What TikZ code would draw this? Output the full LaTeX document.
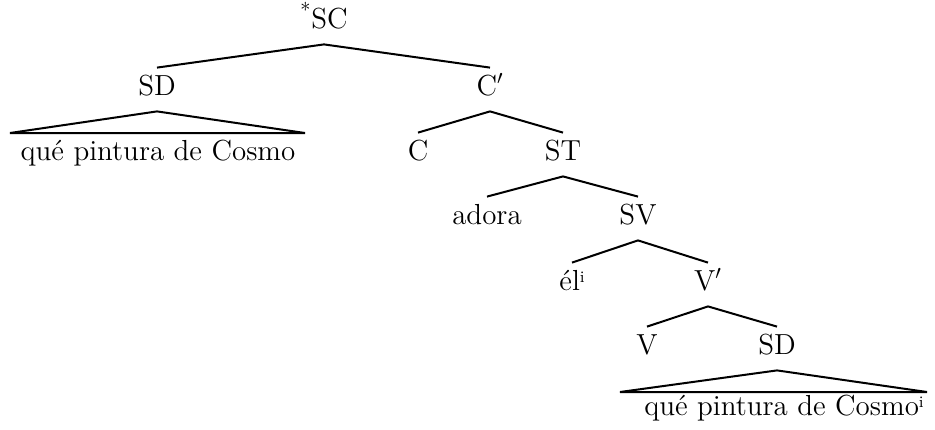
\documentclass[tikz,border=0pt]{standalone}
\usepackage{tikz}
\newcommand{\coidx}[1]{\raisebox{0.6ex}{\footnotesize #1}}
\begin{document}
\begin{tikzpicture}[x=0.5pt,y=-0.5pt,every node/.style={font=\fontsize{14.5}{17}\selectfont,anchor=base,text height=9.5pt,text depth=4pt,inner xsep=2pt,inner ysep=4pt},br/.style={line width=1pt}]
\useasboundingbox (0,0) rectangle (935,429);
% labels
\node (sc) at (324,28) {\textsuperscript{*}SC};
\node (sd) at (157,95) {SD};
\node (cbar) at (490,95) {C$'$};
\node (q1) at (158,160) {qué pintura de Cosmo};
\node (c) at (418,160) {C};
\node (st) at (563,160) {ST};
\node (adora) at (487,224) {adora};
\node (sv) at (638,224) {SV};
\node (el) at (572,290) {él\coidx{i}};
\node (vbar) at (708,290) {V$'$};
\node (v) at (647,354) {V};
\node (sd2) at (777,354) {SD};
\node (q2) at (784,415) {qué pintura de Cosmo\coidx{i}};
\coordinate (q1l) at (10,133);
\coordinate (q1r) at (305,133);
\coordinate (q2l) at (620,392);
\coordinate (q2r) at (927,392);
% branches
\draw[br] (sd.north) -- (sc.south) -- (cbar.north);
\draw[br] (c.north) -- (cbar.south) -- (st.north);
\draw[br] (adora.north) -- (st.south) -- (sv.north);
\draw[br] (el.north) -- (sv.south) -- (vbar.north);
\draw[br] (v.north) -- (vbar.south) -- (sd2.north);
% triangles
\draw[br] (sd.south) -- (q1l) -- (q1r) -- cycle;
\draw[br] (sd2.south) -- (q2l) -- (q2r) -- cycle;
\end{tikzpicture}
\end{document}
